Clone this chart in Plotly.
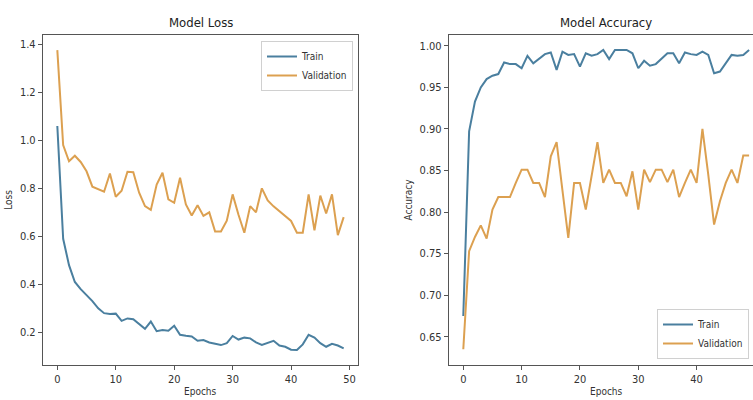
import plotly.graph_objects as go

epochs = list(range(50))

train_loss = [1.06, 0.59, 0.48, 0.41, 0.38, 0.355, 0.33, 0.30, 0.28, 0.277,
              0.278, 0.248, 0.258, 0.255, 0.235, 0.215, 0.245, 0.205, 0.21, 0.207,
              0.228, 0.19, 0.186, 0.183, 0.165, 0.168, 0.158, 0.152, 0.147, 0.155,
              0.185, 0.17, 0.178, 0.175, 0.158, 0.148, 0.155, 0.165, 0.145, 0.14,
              0.128, 0.127, 0.15, 0.19, 0.178, 0.155, 0.14, 0.152, 0.145, 0.133]

val_loss = [1.376, 0.98, 0.913, 0.936, 0.91, 0.871, 0.807, 0.796, 0.786, 0.862,
            0.765, 0.79, 0.869, 0.867, 0.782, 0.726, 0.71, 0.816, 0.865, 0.754,
            0.74, 0.844, 0.733, 0.687, 0.73, 0.685, 0.70, 0.62, 0.62, 0.665,
            0.775, 0.69, 0.615, 0.726, 0.70, 0.80, 0.75, 0.725, 0.705, 0.685,
            0.664, 0.615, 0.615, 0.775, 0.625, 0.77, 0.695, 0.775, 0.605, 0.68]

train_acc = [0.675, 0.897, 0.933, 0.95, 0.96, 0.964, 0.966, 0.98, 0.978, 0.978,
             0.973, 0.988, 0.979, 0.984, 0.99, 0.992, 0.971, 0.993, 0.989, 0.99,
             0.975, 0.991, 0.988, 0.99, 0.995, 0.984, 0.995, 0.995, 0.995, 0.991,
             0.973, 0.982, 0.976, 0.978, 0.984, 0.991, 0.991, 0.979, 0.992, 0.99,
             0.989, 0.993, 0.989, 0.967, 0.969, 0.979, 0.989, 0.988, 0.989, 0.995]

val_acc = [0.635, 0.753, 0.77, 0.784, 0.768, 0.803, 0.818, 0.818, 0.818, 0.835,
           0.851, 0.851, 0.835, 0.835, 0.818, 0.867, 0.884, 0.826, 0.769, 0.835,
           0.835, 0.803, 0.845, 0.884, 0.835, 0.851, 0.835, 0.835, 0.819, 0.849,
           0.803, 0.851, 0.836, 0.851, 0.851, 0.836, 0.851, 0.818, 0.835, 0.851,
           0.835, 0.90, 0.845, 0.785, 0.813, 0.835, 0.851, 0.835, 0.868, 0.868]

loss_ticks = [0.2, 0.4, 0.6, 0.8, 1.0, 1.2, 1.4]
acc_ticks = [0.65, 0.70, 0.75, 0.80, 0.85, 0.90, 0.95, 1.00]
epoch_ticks = [0, 10, 20, 30, 40, 50]

TRAIN_C = "#4a7f9f"
VAL_C = "#dca050"
FONT = "DejaVu Sans Condensed, Liberation Sans Narrow, DejaVu Sans, sans-serif"

fig = go.Figure()
fig.add_trace(go.Scatter(x=epochs, y=train_loss, name="Train", mode="lines",
                         line=dict(color=TRAIN_C, width=2), xaxis="x", yaxis="y",
                         legend="legend"))
fig.add_trace(go.Scatter(x=epochs, y=val_loss, name="Validation", mode="lines",
                         line=dict(color=VAL_C, width=2), xaxis="x", yaxis="y",
                         legend="legend"))
fig.add_trace(go.Scatter(x=epochs, y=train_acc, name="Train", mode="lines",
                         line=dict(color=TRAIN_C, width=2), xaxis="x2", yaxis="y2",
                         legend="legend2"))
fig.add_trace(go.Scatter(x=epochs, y=val_acc, name="Validation", mode="lines",
                         line=dict(color=VAL_C, width=2), xaxis="x2", yaxis="y2",
                         legend="legend2"))

axis_common = dict(showline=True, mirror=True, linecolor="#555", linewidth=1.3,
                   ticks="outside", ticklen=4, tickcolor="#555", showgrid=False,
                   zeroline=False, tickfont=dict(size=11, color="#333", family=FONT))

W, H = 753, 400
fig.update_layout(
    width=W, height=H,
    margin=dict(l=0, r=0, t=0, b=0),
    paper_bgcolor="white", plot_bgcolor="white",
    font=dict(family=FONT, color="#333"),
    xaxis=dict(domain=[43 / W, 358 / W], range=[-2.45, 51.45], tickvals=epoch_ticks,
               anchor="y", **axis_common),
    yaxis=dict(domain=[1 - 365 / H, 1 - 35 / H], range=[0.064, 1.439], tickvals=loss_ticks,
               tickformat=".1f", anchor="x",
               title=dict(text="Loss", font=dict(size=10), standoff=5), **axis_common),
    xaxis2=dict(domain=[449 / W, 1.0], range=[-2.45, 49.67], tickvals=epoch_ticks,
                anchor="y2", **axis_common),
    yaxis2=dict(domain=[1 - 365 / H, 1 - 35 / H], range=[0.616, 1.013], tickvals=acc_ticks,
                tickformat=".2f", anchor="x2",
                title=dict(text="Accuracy", font=dict(size=10), standoff=5), **axis_common),
    legend=dict(x=353 / W, y=1 - 41 / H, xanchor="right", yanchor="top",
                bgcolor="rgba(255,255,255,0.85)", bordercolor="#d0d0d0", borderwidth=1,
                font=dict(size=10, color="#333"), itemwidth=30, tracegroupgap=2),
    legend2=dict(x=749 / W, y=1 - 359 / H, xanchor="right", yanchor="bottom",
                 bgcolor="rgba(255,255,255,0.85)", bordercolor="#d0d0d0", borderwidth=1,
                 font=dict(size=10, color="#333"), itemwidth=30, tracegroupgap=2),
    showlegend=True,
    annotations=[
        dict(text="Model Loss", x=(43 + 358) / 2 / W, y=1 - 22 / H, xref="paper", yref="paper",
             xanchor="center", yanchor="middle",
             showarrow=False, font=dict(size=13, color="#222", family=FONT)),
        dict(text="Model Accuracy", x=606 / W, y=1 - 22 / H, xref="paper",
             yref="paper", xanchor="center", yanchor="middle",
             showarrow=False, font=dict(size=13, color="#222", family=FONT)),
        dict(text="Epochs", x=(43 + 358) / 2 / W, y=1 - 391 / H, xref="paper", yref="paper",
             xanchor="center", yanchor="middle",
             showarrow=False, font=dict(size=10, color="#333", family=FONT)),
        dict(text="Epochs", x=606 / W, y=1 - 391 / H, xref="paper",
             yref="paper", xanchor="center", yanchor="middle",
             showarrow=False, font=dict(size=10, color="#333", family=FONT)),
    ],
)

fig.write_html("out.html", config={"displayModeBar": False},
               post_script="document.body.style.margin='0';document.body.style.overflow='hidden';")
